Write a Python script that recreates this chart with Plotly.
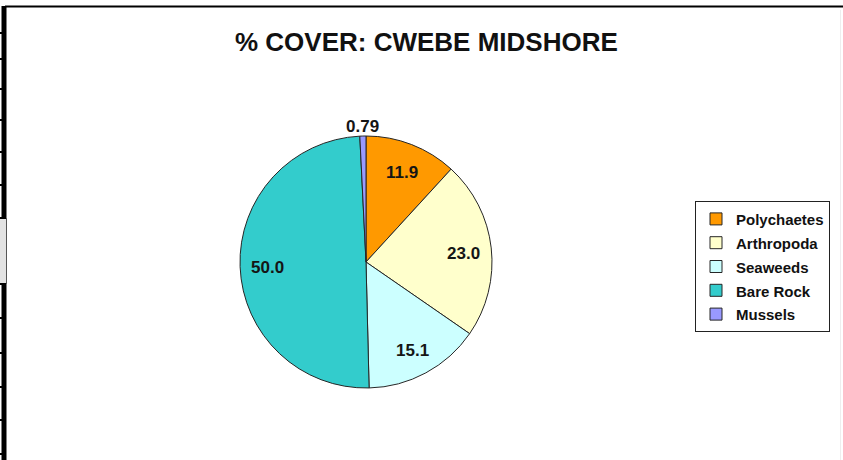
import math
import plotly.graph_objects as go

W, H = 843, 460

# Percentage cover by group
labels = ["Polychaetes", "Arthropoda", "Seaweeds", "Bare Rock", "Mussels"]
values = [11.9, 23.0, 15.1, 50.0, 0.79]
text_labels = ["11.9", "23.0", "15.1", "50.0", "0.79"]
colors = ["#FF9900", "#FFFFCC", "#CCFFFF", "#33CCCC", "#9999FF"]
label_outside = [False, False, False, False, True]

title_text = "% COVER: CWEBE MIDSHORE"
FONT = "Arial, Liberation Sans, sans-serif"


def px_x(x):
    return x / W


def px_y(y):
    return 1 - y / H


# legend entries: 15px bold text on a 16px legend row pitch
legend_names = ["<span style='font-size:15px'><b>%s</b></span>" % n for n in labels]

# pie placement in pixels
cx, cy, r = 366, 262, 126

fig = go.Figure(
    go.Pie(
        labels=legend_names,
        values=values,
        customdata=labels,
        hovertemplate="%{customdata}: %{value}<extra></extra>",
        textinfo="none",
        sort=False,
        direction="clockwise",
        rotation=0,
        marker=dict(colors=colors, line=dict(color="#262626", width=1)),
        domain=dict(x=[px_x(cx - r), px_x(cx + r)], y=[px_y(cy + r), px_y(cy - r)]),
    )
)

# value labels on the bisector of each slice
annotations = []
total = sum(values)
start = 0.0
for val, txt, outside in zip(values, text_labels, label_outside):
    mid = (start + val / 2) / total * 2 * math.pi
    start += val
    k = 1.095 if outside else 0.78
    lx = cx + k * r * math.sin(mid)
    ly = cy - k * r * math.cos(mid) + 2
    annotations.append(dict(
        text="<b>" + txt + "</b>", xref="paper", yref="paper",
        x=px_x(lx), y=px_y(ly), xanchor="center", yanchor="middle",
        showarrow=False, font=dict(family=FONT, size=17, color="#151515")))

annotations.append(dict(
    text="<b>" + title_text + "</b>", xref="paper", yref="paper",
    x=px_x(426), y=px_y(42), xanchor="center", yanchor="middle",
    showarrow=False, font=dict(family=FONT, size=26, color="#111111")))

# spreadsheet frame around the chart object
shapes = []
shapes.append(dict(type="line", xref="paper", yref="paper",
                   x0=px_x(5), x1=1, y0=px_y(6.5), y1=px_y(6.5),
                   line=dict(color="#000000", width=2)))
shapes.append(dict(type="line", xref="paper", yref="paper",
                   x0=px_x(840.5), x1=px_x(840.5), y0=0, y1=px_y(10),
                   line=dict(color="#EEEEEE", width=1)))
shapes.append(dict(type="rect", xref="paper", yref="paper",
                   x0=px_x(1.5), x1=px_x(6.5), y0=0, y1=px_y(6),
                   line=dict(width=0), fillcolor="#000000"))
shapes.append(dict(type="rect", xref="paper", yref="paper",
                   x0=0, x1=px_x(6), y0=px_y(284), y1=px_y(218),
                   line=dict(width=0), fillcolor="#E2E2E2"))
shapes.append(dict(type="line", xref="paper", yref="paper",
                   x0=px_x(6.5), x1=px_x(6.5), y0=px_y(284), y1=px_y(218),
                   line=dict(color="#555555", width=1)))
for ty in [33, 59, 89, 120, 152, 185, 218, 284, 318, 353, 387, 420, 454]:
    shapes.append(dict(type="line", xref="paper", yref="paper",
                       x0=0, x1=px_x(6), y0=px_y(ty), y1=px_y(ty),
                       line=dict(color="#000000", width=2)))

fig.update_layout(
    width=W,
    height=H,
    margin=dict(l=0, r=0, t=0, b=0),
    paper_bgcolor="#FFFFFF",
    plot_bgcolor="#FFFFFF",
    showlegend=True,
    legend=dict(
        x=px_x(695), y=px_y(201), xanchor="left", yanchor="top",
        bgcolor="#FFFFFF", bordercolor="#222222", borderwidth=1,
        font=dict(family=FONT, size=16, color="#111111"),
        traceorder="normal",
    ),
    shapes=shapes,
    annotations=annotations,
)

fig.write_html("out.html")
